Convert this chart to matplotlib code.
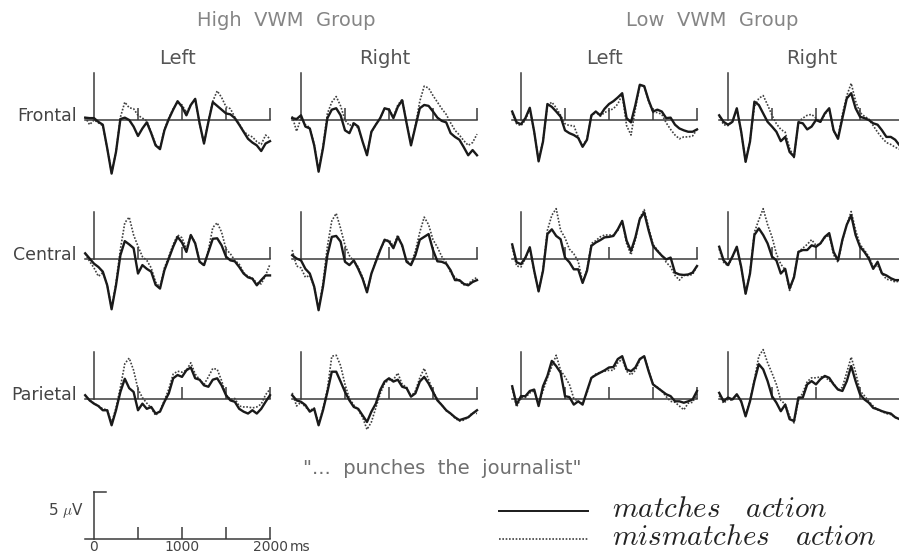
import numpy as np
import matplotlib.pyplot as plt
from matplotlib.lines import Line2D

plt.rcParams['mathtext.fontset'] = 'cm'
plt.rcParams['font.family'] = 'DejaVu Sans'

# time axis of every waveform (ms), one sample every 50 ms
t = np.arange(-100, 2001, 50)

# High VWM group, left hemisphere (uV, positive up)
hi_l_front_match = [0.25, 0.2, 0.2, -0.2, -0.5, -3.0, -5.7, -3.4, 0.1, 0.25, 0.0, -0.7, -1.7, -0.9, -0.25, -1.4, -2.7, -3.1, -1.1, 0.1, 1.1, 2.0, 1.4, 0.5, 1.6, 2.25, -0.35, -2.5, -0.2, 1.9, 1.5, 1.1, 0.7, 0.6, 0.2, -0.5, -1.25, -2.0, -2.4, -2.7, -3.3, -2.5, -2.25]
hi_l_front_mism = [0.3, -0.5, 0.0, -0.3, -0.6, -3.0, -5.6, -3.4, 0.3, 1.9, 1.3, 1.2, 0.5, 0.2, -0.1, -1.3, -2.6, -3.0, -1.0, 0.2, 1.2, 1.9, 1.6, 0.8, 1.6, 2.2, -0.4, -2.5, -0.1, 2.0, 3.1, 2.4, 1.4, 1.2, 0.3, -0.4, -1.2, -1.6, -1.8, -2.3, -2.6, -1.6, -2.0]
hi_l_cent_match = [0.55, 0.0, -0.55, -0.9, -1.4, -2.85, -5.4, -2.85, 0.35, 1.85, 1.5, 1.1, -1.6, -0.7, -1.1, -1.4, -2.8, -3.2, -1.25, 0.0, 1.25, 2.3, 1.7, 0.7, 2.5, 1.6, -0.35, -0.7, 0.7, 2.1, 2.15, 1.4, 0.2, -0.2, -0.3, -0.9, -1.6, -2.0, -2.15, -2.85, -2.3, -1.8, -1.8]
hi_l_cent_mism = [0.5, -0.3, -1.0, -1.9, -1.5, -2.8, -5.3, -2.6, 1.0, 3.8, 4.4, 2.5, 1.3, 0.2, -0.2, -1.0, -2.5, -3.1, -1.0, 0.2, 1.5, 2.5, 2.2, 1.0, 2.5, 1.7, -0.3, -0.8, 0.9, 3.3, 3.8, 2.8, 1.0, 0.5, -0.2, -0.6, -1.5, -1.9, -2.1, -2.6, -2.7, -1.8, -0.6]
hi_l_pari_match = [0.35, -0.2, -0.55, -0.8, -1.25, -1.25, -2.85, -1.25, 0.7, 2.1, 1.1, 0.7, -1.25, -0.55, -1.1, -0.9, -1.6, -1.4, -0.35, 0.55, 2.15, 2.5, 2.3, 3.0, 3.3, 2.15, 2.0, 1.4, 1.25, 2.0, 2.15, 1.4, 0.35, -0.2, -0.35, -1.1, -1.4, -1.6, -1.25, -1.6, -1.1, -0.35, 0.35]
hi_l_pari_mism = [0.3, -0.2, -0.5, -0.8, -1.1, -1.2, -2.6, -1.0, 1.2, 3.7, 4.3, 3.0, 1.0, 0.1, -0.5, -1.0, -1.8, -1.3, -0.2, 1.0, 2.6, 2.9, 2.8, 3.0, 3.8, 2.6, 2.0, 1.5, 2.3, 3.2, 3.1, 1.9, 0.4, -0.1, 0.0, -0.8, -0.9, -0.9, -1.0, -0.9, -0.6, 0.4, 1.0]

# High VWM group, right hemisphere
hi_r_front_match = [0.2, 0.1, 0.5, -0.7, -0.9, -2.7, -5.5, -3.0, 0.2, 1.1, 1.25, 0.5, -1.1, -1.4, -0.35, -0.7, -2.3, -3.75, -1.25, -0.5, 0.2, 1.25, 1.1, 0.2, 1.4, 2.1, -0.35, -2.7, -0.7, 1.25, 1.6, 1.5, 0.9, 0.25, -0.1, -0.25, -1.4, -1.8, -2.1, -2.9, -3.75, -3.2, -3.75]
hi_r_front_mism = [0.4, -1.2, 0.2, -0.5, -0.8, -2.6, -5.4, -2.8, 0.7, 1.9, 2.5, 1.5, 0.0, -0.6, -0.3, -0.9, -2.3, -3.6, -1.3, -0.5, 0.2, 1.2, 1.2, 0.3, 1.6, 2.2, -0.3, -2.6, -0.6, 2.0, 3.6, 3.4, 2.6, 1.9, 1.2, 0.6, -0.3, -1.1, -1.6, -2.2, -2.7, -2.4, -1.5]
hi_r_cent_match = [0.35, 0.0, -0.2, -1.1, -1.6, -3.0, -5.5, -3.0, 0.35, 2.3, 2.4, 1.8, -0.35, -0.7, -0.2, -1.1, -2.15, -3.6, -1.6, -0.35, 0.9, 2.0, 1.8, 1.1, 2.3, 1.4, -0.35, -0.7, 0.35, 2.0, 2.3, 2.6, 0.9, -0.3, -0.35, -0.55, -1.25, -2.3, -2.3, -2.7, -2.85, -2.5, -2.3]
hi_r_cent_mism = [0.9, -0.8, -1.0, -2.0, -1.8, -3.0, -5.4, -2.6, 1.3, 4.0, 4.8, 3.2, 1.4, 0.3, -0.3, -0.9, -2.0, -3.5, -1.7, -0.2, 1.0, 1.8, 2.0, 1.3, 2.5, 1.2, -0.2, -0.6, 0.8, 2.8, 4.4, 3.6, 2.0, 1.2, 0.2, -0.4, -1.5, -2.0, -2.4, -2.8, -2.7, -2.3, -2.0]
hi_r_pari_match = [0.35, -0.2, -0.35, -0.7, -1.4, -1.1, -2.85, -1.25, 0.7, 2.85, 2.85, 1.8, 0.7, -0.2, -0.9, -1.1, -1.8, -2.5, -1.4, -0.55, 0.9, 1.8, 2.15, 1.8, 2.0, 1.25, 1.1, 0.2, 0.55, 1.8, 2.3, 1.6, 0.7, -0.2, -0.7, -1.25, -1.6, -2.0, -2.3, -2.15, -2.0, -1.6, -1.25]
hi_r_pari_mism = [0.6, -0.8, -0.4, -0.9, -1.3, -1.0, -2.7, -1.1, 1.0, 4.5, 4.6, 3.5, 1.5, 0.0, -0.7, -1.2, -2.0, -3.3, -2.5, -1.0, 0.5, 1.6, 2.0, 2.0, 2.7, 1.5, 1.2, 0.2, 0.8, 2.2, 3.2, 2.0, 0.8, -0.1, -0.7, -1.3, -1.6, -2.1, -2.4, -2.3, -2.0, -1.5, -1.6]

# Low VWM group, left hemisphere
lo_l_front_match = [0.9, -0.25, -0.45, 0.2, 1.3, -1.25, -4.4, -2.3, 1.7, 1.4, 0.9, 0.35, -1.1, -1.4, -1.6, -1.9, -2.85, -2.1, 0.5, 0.9, 0.5, 1.2, 1.7, 2.0, 2.4, 2.85, 0.2, -0.25, 1.6, 3.75, 3.6, 2.1, 0.9, 1.1, 0.9, 0.2, 0.25, -0.5, -0.9, -1.1, -1.25, -1.25, -1.0]
lo_l_front_mism = [0.7, -0.4, -0.6, 0.0, 1.2, -1.3, -4.3, -2.2, 1.5, 1.9, 1.3, 0.5, -0.4, -0.6, -0.6, -1.8, -2.8, -2.0, 0.4, 0.9, 0.4, 0.8, 1.0, 1.2, 1.7, 2.7, -0.6, -1.6, 1.2, 3.7, 3.6, 2.0, 0.8, 0.8, 0.6, -0.3, -1.0, -1.6, -2.0, -1.8, -1.8, -1.7, -1.0]
lo_l_cent_match = [1.5, -0.4, -0.6, 0.1, 1.2, -1.3, -3.5, -1.3, 2.6, 3.1, 2.4, 2.05, 0.1, -0.4, -1.15, -1.15, -2.6, -1.3, 1.35, 1.7, 1.95, 2.25, 2.3, 2.4, 3.1, 4.0, 1.9, 0.8, 2.25, 4.2, 4.9, 3.0, 1.35, 0.8, 0.3, -0.1, 0.1, -1.5, -1.7, -1.75, -1.7, -1.5, -0.8]
lo_l_cent_mism = [1.2, -0.8, -0.9, 0.0, 1.1, -1.4, -3.5, -1.2, 3.0, 4.6, 5.3, 3.0, 2.2, 1.0, 0.5, -0.3, -2.5, -1.2, 1.6, 1.9, 2.3, 2.5, 2.5, 2.5, 3.0, 4.0, 1.6, 0.4, 2.0, 4.3, 5.2, 3.3, 1.5, 0.9, 0.3, -0.4, -0.9, -1.8, -2.3, -1.8, -1.8, -1.7, -0.8]
lo_l_pari_match = [1.3, -0.65, 0.25, 0.25, 0.8, 0.95, -0.8, 1.3, 2.4, 4.0, 3.45, 2.75, 0.25, 0.15, -0.65, -0.3, -0.65, 0.8, 2.2, 2.5, 2.75, 3.0, 3.3, 3.35, 4.2, 4.5, 3.1, 2.9, 3.3, 4.2, 4.5, 2.9, 1.5, 1.15, 0.8, 0.45, 0.25, -0.3, -0.3, -0.45, -0.3, -0.1, 0.8]
lo_l_pari_mism = [1.1, -0.9, 0.1, 0.1, 0.6, 0.8, -0.6, 0.8, 2.2, 3.4, 4.6, 3.0, 2.3, 1.5, 0.0, -0.3, -0.5, 0.6, 2.2, 2.6, 2.8, 2.9, 3.0, 3.0, 3.8, 4.2, 2.9, 2.5, 3.0, 4.1, 4.5, 3.0, 1.5, 1.2, 0.8, 0.2, -0.3, -0.4, -0.8, -1.2, -0.5, -0.4, 0.5]

# Low VWM group, right hemisphere
lo_r_front_match = [0.5, -0.2, -0.5, -0.2, 1.25, -1.25, -4.45, -2.3, 1.95, 1.6, 0.7, -0.2, -0.7, -1.25, -2.25, -1.8, -3.4, -3.9, -0.25, -0.35, -1.0, -0.7, 0.0, -0.2, 0.7, 1.25, -1.1, -2.0, 0.2, 2.3, 2.85, 1.25, 0.35, 0.2, 0.0, -0.35, -0.5, -1.1, -1.8, -1.8, -2.1, -2.7, -2.9]
lo_r_front_mism = [0.4, -0.5, -0.6, -0.2, 1.2, -1.3, -4.4, -2.2, 1.4, 2.3, 2.6, 1.6, 0.5, -0.4, -1.0, -1.3, -3.0, -4.0, -0.2, 0.2, 0.5, 0.6, 0.2, -0.2, 0.6, 1.2, -1.2, -1.8, 0.6, 2.6, 3.9, 2.0, 0.8, 0.4, 0.1, -0.6, -1.3, -1.9, -2.4, -2.6, -2.9, -3.1, -3.3]
lo_r_cent_match = [1.25, -0.2, -0.7, 0.2, 1.25, -0.9, -3.75, -1.6, 2.5, 3.2, 2.5, 1.6, 0.2, -0.2, -1.6, -1.1, -3.2, -2.0, 0.7, 0.9, 0.9, 1.4, 1.25, 1.6, 2.3, 2.7, 0.7, -0.2, 2.0, 3.6, 4.6, 2.5, 1.25, 0.7, 0.0, -1.1, -0.35, -1.6, -1.8, -2.1, -2.3, -2.3, -2.4]
lo_r_cent_mism = [1.0, -0.4, -0.8, 0.1, 1.2, -1.0, -3.7, -1.5, 2.8, 4.1, 5.3, 3.6, 2.3, 0.5, -0.6, -1.2, -3.4, -1.9, 0.7, 1.1, 1.5, 2.0, 1.4, 1.6, 2.2, 2.5, 0.4, -0.4, 1.9, 3.6, 5.0, 3.0, 1.5, 0.9, 0.2, -0.9, -0.7, -1.6, -2.2, -2.3, -2.5, -2.4, -2.5]
lo_r_pari_match = [0.6, -0.3, 0.1, -0.1, 0.45, -0.3, -1.9, -0.3, 1.85, 3.65, 3.1, 1.85, 0.25, -0.45, -1.35, -0.65, -2.2, -2.4, 0.1, 0.1, 1.5, 1.85, 1.5, 2.05, 2.4, 2.2, 1.5, 0.95, 0.8, 1.85, 3.45, 1.85, 0.45, -0.1, -0.45, -1.0, -1.15, -1.35, -1.5, -1.6, -2.0, -2.2, -2.4]
lo_r_pari_mism = [0.3, -0.5, -0.1, -0.2, 0.4, -0.4, -1.8, -0.2, 2.0, 4.5, 5.2, 3.8, 2.7, 1.5, -0.2, -0.6, -1.9, -2.6, -0.2, 0.6, 1.8, 2.2, 2.2, 2.3, 2.3, 1.9, 1.6, 0.9, 1.2, 2.8, 4.4, 2.8, 0.8, 0.3, -0.3, -0.8, -1.2, -1.4, -1.6, -1.7, -2.0, -2.2, -2.6]

rows = ['Frontal', 'Central', 'Parietal']
cols = ['Left', 'Right', 'Left', 'Right']
groups = ['High  VWM  Group', 'Low  VWM  Group']
word_ticks = [500, 1000, 1500, 2000]
bar_labels = ['0', '1000', '2000']

grid = [
    [(hi_l_front_match, hi_l_front_mism), (hi_r_front_match, hi_r_front_mism),
     (lo_l_front_match, lo_l_front_mism), (lo_r_front_match, lo_r_front_mism)],
    [(hi_l_cent_match, hi_l_cent_mism), (hi_r_cent_match, hi_r_cent_mism),
     (lo_l_cent_match, lo_l_cent_mism), (lo_r_cent_match, lo_r_cent_mism)],
    [(hi_l_pari_match, hi_l_pari_mism), (hi_r_pari_match, hi_r_pari_mism),
     (lo_l_pari_match, lo_l_pari_mism), (lo_r_pari_match, lo_r_pari_mism)],
]

W, H = 899, 555
MS_PX = 176 / 2000.0   # pixels per ms
UV_PX = 9.4            # pixels per uV
T_LO, T_HI = -150, 2050
V_LO, V_HI = -6.5, 5.5
col_x0 = [94, 301, 521, 728]
row_y0 = [120, 258.5, 398.5]

AXC = '#3a3a3a'
fig = plt.figure(figsize=(W / 100, H / 100), dpi=100)


def panel_ax(x0, yb):
    left = x0 + T_LO * MS_PX
    top = yb - V_HI * UV_PX
    w = (T_HI - T_LO) * MS_PX
    h = (V_HI - V_LO) * UV_PX
    ax = fig.add_axes([left / W, 1 - (top + h) / H, w / W, h / H])
    ax.set_xlim(T_LO, T_HI)
    ax.set_ylim(V_LO, V_HI)
    ax.axis('off')
    return ax


def frame(ax, ticks):
    ax.plot([-100, 2000], [0, 0], color=AXC, lw=1.1)
    ax.plot([0, 0], [0, 5], color=AXC, lw=1.1)
    ax.vlines(ticks, 0, 1.25, color=AXC, lw=1.1)


for r, row in enumerate(grid):
    for c, (match, mism) in enumerate(row):
        ax = panel_ax(col_x0[c], row_y0[r])
        frame(ax, word_ticks)
        ax.plot(t, mism, color='#404040', lw=1.2, ls=(0, (1, 1)))
        ax.plot(t, match, color='#1a1a1a', lw=1.7)
        if r == 0:
            ax.text(950, 6.5, cols[c], ha='center', va='center',
                    fontsize=14, color='#555555', clip_on=False)
        if c == 0:
            ax.text(-195, 0.4, rows[r], ha='right', va='center',
                    fontsize=12.5, color='#444444', clip_on=False)

fig.text(286 / W, 1 - 21 / H, groups[0], ha='center', va='center',
         fontsize=14, color='#858585')
fig.text(712 / W, 1 - 21 / H, groups[1], ha='center', va='center',
         fontsize=14, color='#858585')
fig.text(442 / W, 1 - 468 / H, '"...  punches  the  journalist"', ha='center',
         va='center', fontsize=14, color='#707070')

# calibration bar
sb = panel_ax(94, 539)
frame(sb, word_ticks)
sb.plot([0, 136], [5, 5], color=AXC, lw=1.1)
for lab in bar_labels:
    sb.text(float(lab), -1.25, lab, ha='center', va='baseline', fontsize=10,
            color='#444444', clip_on=False)
sb.text(2230, -1.25, 'ms', ha='left', va='baseline', fontsize=10,
        color='#444444', clip_on=False)
sb.text(-110, 3.0, r'5 $\mu$V', ha='right', va='center', fontsize=11,
        color='#444444', clip_on=False)

# legend
fig.add_artist(Line2D([499 / W, 588 / W], [1 - 511 / H, 1 - 511 / H],
                      color='#1a1a1a', lw=1.4))
fig.add_artist(Line2D([499 / W, 588 / W], [1 - 539 / H, 1 - 539 / H],
                      color='#404040', lw=1.2, ls=(0, (1, 1))))
fig.text(612 / W, 1 - 509 / H, r'$matches\ \ \ action$', ha='left', va='center',
         fontsize=21, color='#222222')
fig.text(612 / W, 1 - 537 / H, r'$mismatches\ \ \ action$', ha='left',
         va='center', fontsize=21, color='#222222')

fig.savefig('out.png', dpi=100)
